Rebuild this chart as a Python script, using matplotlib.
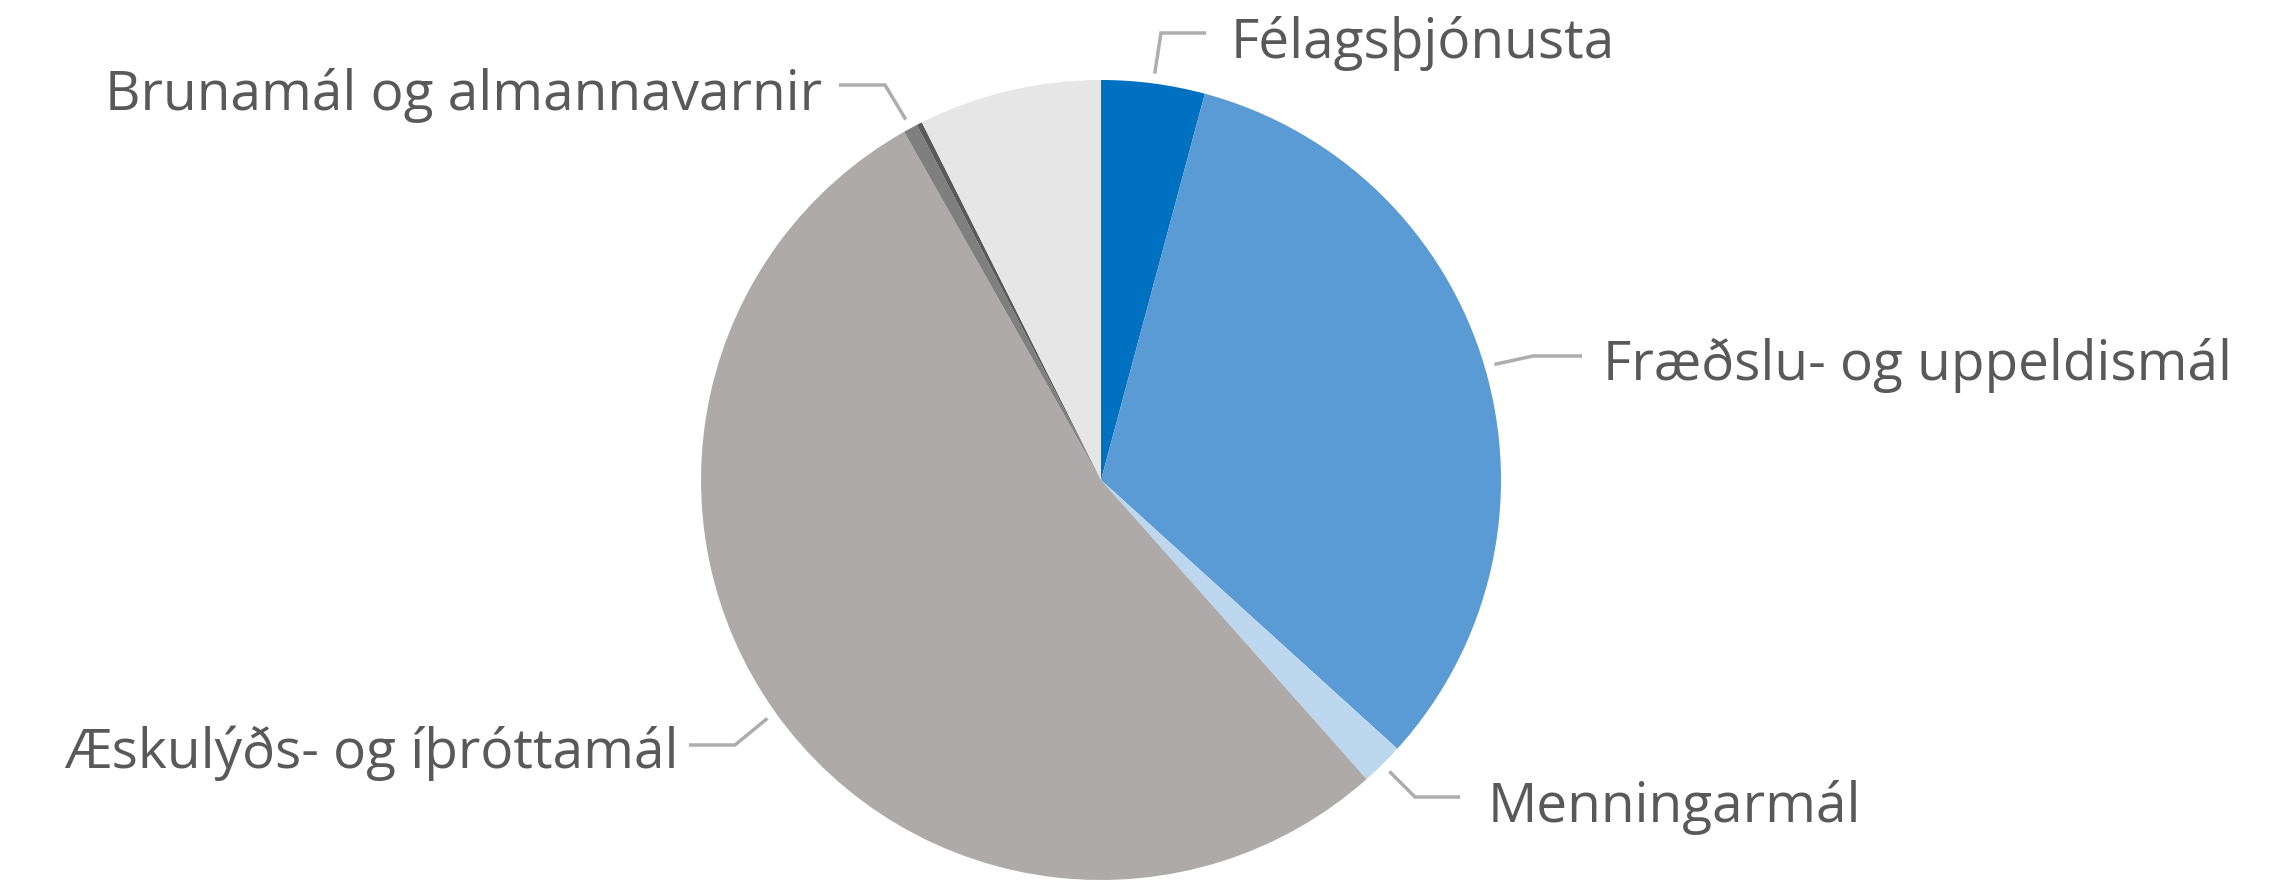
import numpy as np
import matplotlib
matplotlib.use("Agg")
import matplotlib.pyplot as plt

# ---- data (shares in percent, clockwise from 12 o'clock) ----
categories = ["Félagsþjónusta", "Fræðslu- og uppeldismál", "Menningarmál",
              "Æskulýðs- og íþróttamál", "Brunamál og almannavarnir",
              "Annað 1", "Annað 2"]
values = [4.18, 32.54, 1.72, 53.36, 0.58, 0.22, 7.39]
show_label = [True, True, True, True, True, False, False]
colors = ["#0070C0", "#5B9BD5", "#BDD7EE", "#AEAAAA", "#7F7F7F", "#595959", "#E6E6E6"]

W, H = 2290, 880
fig = plt.figure(figsize=(W / 100, H / 100), dpi=100)
ax = fig.add_axes([0, 0, 1, 1])

CX, CY, R = 1101, 480, 400   # pixel layout (y measured from top)
def Y(y):
    return H - y

wedges, _ = ax.pie(values, colors=colors, startangle=90, counterclock=False,
                   center=(CX, Y(CY)), radius=R,
                   wedgeprops=dict(linewidth=0, antialiased=True))
ax.set_xlim(0, W)
ax.set_ylim(0, H)
ax.set_aspect("equal")
ax.axis("off")

# label layout: (elbow point, end of horizontal, text x, text baseline, ha) in pixels
layout = {
    "Félagsþjónusta": ((1161, 33), (1206, 33), 1231, 58, "left"),
    "Fræðslu- og uppeldismál": ((1533, 356), (1582, 356), 1603, 380, "left"),
    "Menningarmál": ((1415, 797), (1460, 797), 1488, 822, "left"),
    "Æskulýðs- og íþróttamál": ((735, 745), (689, 745), 679, 768, "right"),
    "Brunamál og almannavarnir": ((885, 85), (839, 85), 822, 110, "right"),
}

line_col = "#ADADAD"
text_col = "#595959"
for w, name, show in zip(wedges, categories, show_label):
    if not show:
        continue
    mid = np.deg2rad((w.theta1 + w.theta2) / 2)
    sx = CX + 1.025 * R * np.cos(mid)
    sy = Y(CY) + 1.025 * R * np.sin(mid)
    (ex, ey), (hx, hy), tx, ty, ha = layout[name]
    ax.plot([sx, ex, hx], [sy, Y(ey), Y(hy)], color=line_col, lw=2.5,
            solid_capstyle="butt", solid_joinstyle="miter")
    ax.text(tx, Y(ty), name, ha=ha, va="baseline", fontsize=39.5,
            family=["Open Sans", "DejaVu Sans"], color=text_col)

fig.savefig("out.png", dpi=100)
